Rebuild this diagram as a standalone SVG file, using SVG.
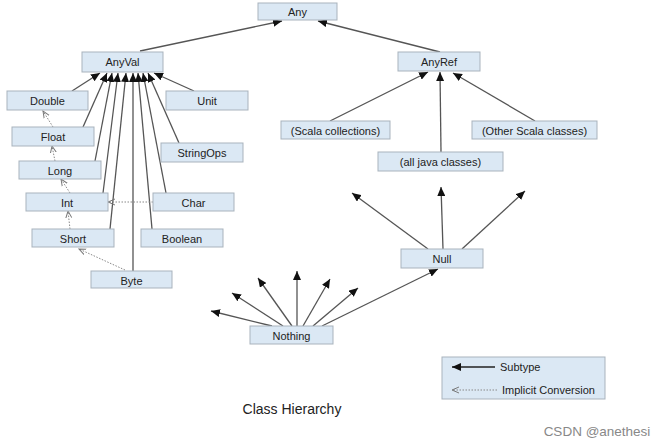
<svg xmlns="http://www.w3.org/2000/svg" width="665" height="447" viewBox="0 0 665 447">
<style>
.box{fill:#dbe8f4;stroke:#a9b3bd;stroke-width:1}
.t{font-family:"Liberation Sans",Arial,sans-serif;font-size:11px;fill:#222;text-anchor:middle;dominant-baseline:central}
.sub{stroke:#555;stroke-width:1.3;fill:none;marker-end:url(#ah)}
.imp{stroke:#888;stroke-width:1;stroke-dasharray:1.5,1.5;fill:none;marker-end:url(#oh)}
</style>
<defs>
<marker id="ah" markerUnits="userSpaceOnUse" markerWidth="10" markerHeight="8" refX="9" refY="4" orient="auto">
<path d="M0,0 L9,4 L0,8 z" fill="#111"/>
</marker>
<marker id="oh" markerUnits="userSpaceOnUse" markerWidth="8" markerHeight="8" refX="7" refY="4" orient="auto">
<path d="M0,1 L7,4 L0,7" fill="none" stroke="#777" stroke-width="1"/>
</marker>
</defs>
<rect width="665" height="447" fill="#fff"/>
<g id="connectors">
<line class="sub" x1="140" y1="51" x2="282" y2="21"/>
<line class="sub" x1="440" y1="52" x2="318" y2="21"/>
<line class="sub" x1="330" y1="121" x2="428" y2="72"/>
<line class="sub" x1="441" y1="152" x2="440" y2="72"/>
<line class="sub" x1="535" y1="121" x2="453" y2="73"/>
<line class="sub" x1="72" y1="91" x2="100" y2="73"/>
<line class="sub" x1="83" y1="127" x2="107" y2="73"/>
<line class="sub" x1="95" y1="161" x2="112" y2="73"/>
<line class="sub" x1="103" y1="193" x2="118" y2="73"/>
<line class="sub" x1="110" y1="229" x2="126" y2="73"/>
<line class="sub" x1="133" y1="271" x2="133" y2="73"/>
<line class="sub" x1="152" y1="229" x2="138" y2="73"/>
<line class="sub" x1="166" y1="193" x2="143" y2="73"/>
<line class="sub" x1="179" y1="143" x2="148" y2="73"/>
<line class="sub" x1="194" y1="91" x2="154" y2="73"/>
<line class="imp" x1="53" y1="127" x2="43" y2="111"/>
<line class="imp" x1="55" y1="161" x2="52" y2="146"/>
<line class="imp" x1="70" y1="193" x2="61" y2="179"/>
<line class="imp" x1="70" y1="229" x2="68" y2="211"/>
<line class="imp" x1="125" y1="270" x2="79" y2="249"/>
<line class="imp" x1="153" y1="202" x2="108" y2="202"/>
<line class="sub" x1="428" y1="249" x2="352" y2="193"/>
<line class="sub" x1="443" y1="249" x2="441" y2="187"/>
<line class="sub" x1="462" y1="249" x2="525" y2="191"/>
<line class="sub" x1="272" y1="326" x2="211" y2="311"/>
<line class="sub" x1="283" y1="326" x2="232" y2="293"/>
<line class="sub" x1="292" y1="326" x2="258" y2="278"/>
<line class="sub" x1="297" y1="326" x2="297" y2="271"/>
<line class="sub" x1="303" y1="326" x2="330" y2="279"/>
<line class="sub" x1="313" y1="326" x2="358" y2="288"/>
<line class="sub" x1="322" y1="326" x2="438" y2="269"/>
</g>
<g id="any"><rect class="box" x="258" y="3" width="79" height="17"/><text class="t" x="297.5" y="12">Any</text></g>
<g id="anyval"><rect class="box" x="82" y="52" width="81" height="20"/><text class="t" x="122.5" y="62">AnyVal</text></g>
<g id="anyref"><rect class="box" x="398" y="52" width="82" height="19"/><text class="t" x="439" y="62">AnyRef</text></g>
<g id="double"><rect class="box" x="7" y="91" width="81" height="19"/><text class="t" x="47.5" y="101">Double</text></g>
<g id="unit"><rect class="box" x="166" y="91" width="82" height="19"/><text class="t" x="207" y="101">Unit</text></g>
<g id="float"><rect class="box" x="12" y="127" width="82" height="19"/><text class="t" x="53" y="137">Float</text></g>
<g id="stringops"><rect class="box" x="161" y="143" width="82" height="19"/><text class="t" x="202" y="153">StringOps</text></g>
<g id="long"><rect class="box" x="19" y="161" width="82" height="18"/><text class="t" x="60" y="170.5">Long</text></g>
<g id="int"><rect class="box" x="26" y="193" width="82" height="18"/><text class="t" x="67" y="202.5">Int</text></g>
<g id="char"><rect class="box" x="153" y="193" width="81" height="18"/><text class="t" x="193.5" y="202.5">Char</text></g>
<g id="short"><rect class="box" x="32" y="229" width="82" height="18"/><text class="t" x="73" y="238.5">Short</text></g>
<g id="boolean"><rect class="box" x="141" y="229" width="82" height="18"/><text class="t" x="182" y="238.5">Boolean</text></g>
<g id="byte"><rect class="box" x="91" y="271" width="81" height="17"/><text class="t" x="131.5" y="280.5">Byte</text></g>
<g id="scalacoll"><rect class="box" x="281" y="121" width="109" height="18"/><text class="t" x="335.5" y="130.5">(Scala collections)</text></g>
<g id="otherscala"><rect class="box" x="472" y="121" width="125" height="18"/><text class="t" x="534.5" y="130.5">(Other Scala classes)</text></g>
<g id="java"><rect class="box" x="378" y="152" width="125" height="19"/><text class="t" x="440.5" y="162">(all java classes)</text></g>
<g id="null"><rect class="box" x="401" y="249" width="82" height="19"/><text class="t" x="442" y="259">Null</text></g>
<g id="nothing"><rect class="box" x="250" y="326" width="83" height="18"/><text class="t" x="291.5" y="335.5">Nothing</text></g>
<g id="legend">
<rect class="box" x="442" y="357" width="163" height="42"/>
<line x1="495" y1="367" x2="452" y2="367" stroke="#222" stroke-width="1.3" marker-end="url(#ah)"/>
<text class="t" x="500" y="367" style="text-anchor:start">Subtype</text>
<line x1="497" y1="390" x2="452" y2="390" stroke="#888" stroke-width="1" stroke-dasharray="1.5,1.5" marker-end="url(#oh)"/>
<text class="t" x="502" y="390" style="text-anchor:start">Implicit Conversion</text>
</g>
<text x="292" y="414" style="font-family:'Liberation Sans',Arial,sans-serif;font-size:14px;fill:#222;text-anchor:middle">Class Hierarchy</text>
<text x="597" y="436" style="font-family:'Liberation Sans',Arial,sans-serif;font-size:13.5px;fill:#888;text-anchor:middle">CSDN @anethesi</text>
</svg>
